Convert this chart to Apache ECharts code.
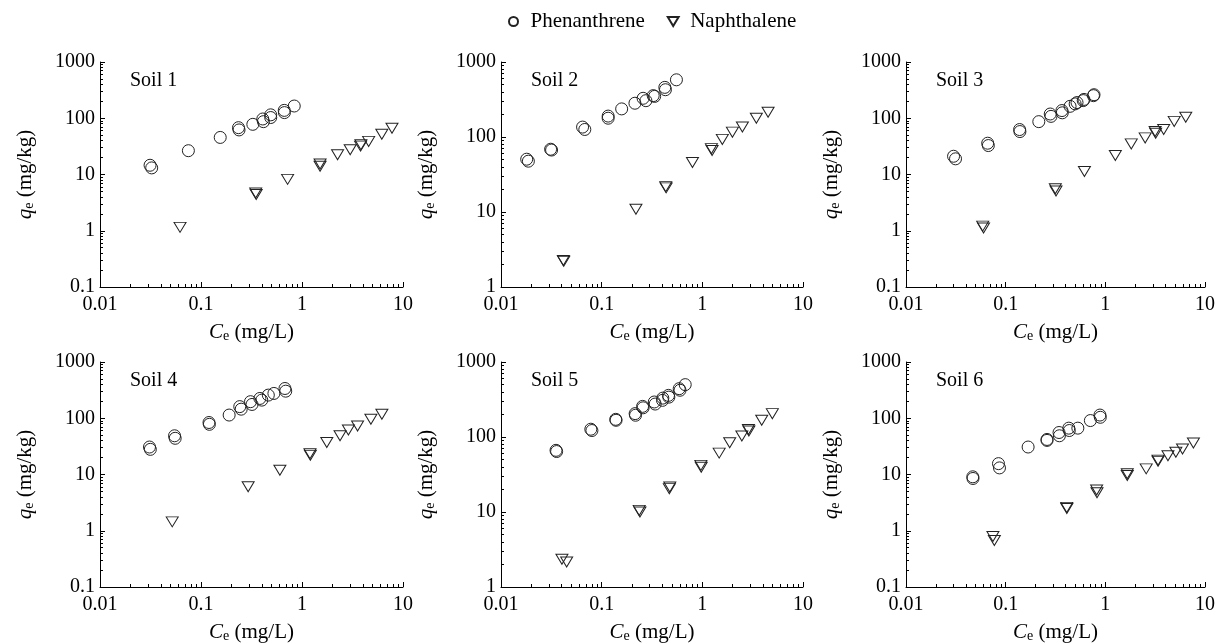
<!DOCTYPE html>
<html>
<head>
<meta charset="utf-8">
<script src="https://cdn.jsdelivr.net/npm/echarts@6/dist/echarts.min.js"></script>
<style>
html, body { margin: 0; padding: 0; background: #fff; }
#chart { width: 1218px; height: 644px; }
</style>
</head>
<body>
<div id="chart"></div>
<script>
// 名称
var soilNames = ['Soil 1', 'Soil 2', 'Soil 3', 'Soil 4', 'Soil 5', 'Soil 6'];
var seriesNames = ['Phenanthrene', 'Naphthalene'];

// 刻度
var xTicks = [0.01, 0.1, 1, 10];
var yTicksWide = [0.1, 1, 10, 100, 1000];
var yTicksNarrow = [1, 10, 100, 1000];

// Phenanthrene [Ce, qe]
var phen1 = [[0.0313, 14.6], [0.0325, 13.1], [0.075, 26.5], [0.155, 45.6], [0.235, 68], [0.238, 62], [0.326, 78], [0.409, 97], [0.415, 87], [0.49, 115], [0.49, 103], [0.667, 138], [0.67, 126], [0.838, 165]];
var phen2 = [[0.018, 50.6], [0.0187, 47.6], [0.0311, 68.7], [0.0318, 67], [0.0646, 135.6], [0.068, 126], [0.116, 190], [0.116, 178], [0.158, 237], [0.214, 282], [0.258, 328], [0.275, 305], [0.325, 356], [0.336, 348], [0.424, 459], [0.43, 427], [0.553, 579]];
var phen3 = [[0.030, 21.1], [0.0314, 19], [0.066, 36], [0.067, 32.7], [0.138, 63], [0.139, 58], [0.215, 87], [0.28, 119], [0.285, 108], [0.367, 137], [0.37, 125], [0.443, 163], [0.498, 180], [0.52, 190], [0.6, 206], [0.61, 216], [0.76, 252], [0.77, 262]];
var phen4 = [[0.0309, 30.8], [0.0315, 28], [0.0547, 48.8], [0.0555, 44], [0.12, 84], [0.121, 78], [0.19, 114], [0.242, 161], [0.25, 145], [0.309, 197], [0.32, 176], [0.383, 225], [0.4, 210], [0.464, 258], [0.527, 276], [0.678, 338], [0.69, 303]];
var phen5 = [[0.0352, 66.4], [0.0357, 64], [0.078, 127], [0.08, 122], [0.138, 172], [0.139, 167], [0.215, 205], [0.217, 195], [0.255, 256], [0.258, 245], [0.333, 293], [0.34, 275], [0.402, 308], [0.405, 330], [0.461, 359], [0.465, 340], [0.589, 441], [0.6, 420], [0.676, 499]];
var phen6 = [[0.0468, 9.1], [0.047, 8.5], [0.0847, 15.6], [0.0867, 13.1], [0.168, 30.8], [0.26, 40.4], [0.26, 42], [0.343, 55.8], [0.346, 48.8], [0.43, 66.7], [0.435, 60.5], [0.53, 66.7], [0.708, 91], [0.883, 114], [0.89, 104]];

// Naphthalene [Ce, qe]
var naph1 = [[0.062, 1.15], [0.352, 4.4], [0.348, 4.7], [0.72, 8.2], [1.51, 15.4], [1.51, 14], [2.25, 22.5], [3.0, 27.6], [3.83, 33.9], [3.8, 32], [4.57, 38.8], [6.17, 52], [7.78, 66.6]];
var naph2 = [[0.0416, 2.26], [0.042, 2.2], [0.219, 10.9], [0.433, 21.8], [0.437, 21], [0.798, 45.7], [1.23, 70], [1.25, 66], [1.58, 93], [1.99, 116], [2.5, 136], [3.44, 178], [4.5, 214]];
var naph3 = [[0.0588, 1.21], [0.06, 1.12], [0.315, 5.57], [0.32, 5.1], [0.617, 11.3], [1.26, 21.7], [1.82, 35], [2.51, 44.8], [3.16, 58], [3.2, 54], [3.85, 63], [4.91, 88], [6.41, 104]];
var naph4 = [[0.0519, 1.44], [0.293, 6.05], [0.604, 11.9], [1.2, 23.5], [1.21, 22], [1.76, 37], [2.38, 48.8], [2.88, 62], [3.55, 73], [4.81, 96], [6.18, 118]];
var naph5 = [[0.0403, 2.34], [0.0449, 2.15], [0.236, 10.5], [0.24, 10], [0.475, 21.5], [0.47, 20.5], [0.967, 41.9], [0.975, 39.5], [1.47, 61], [1.87, 84], [2.47, 103], [2.87, 126], [2.9, 120], [3.89, 167], [4.96, 205]];
var naph6 = [[0.0745, 0.79], [0.077, 0.67], [0.411, 2.48], [0.41, 2.6], [0.818, 5.3], [0.825, 4.75], [1.66, 9.6], [1.66, 10.3], [2.57, 12.6], [3.38, 17.2], [3.38, 18], [4.25, 21.6], [5.1, 24.8], [5.95, 28.4], [7.65, 36.2]];

var phenData = [phen1, phen2, phen3, phen4, phen5, phen6];
var naphData = [naph1, naph2, naph3, naph4, naph5, naph6];
var yMins = [0.1, 1, 0.1, 0.1, 1, 0.1];

var FONT = 'Liberation Serif';
var triPath = 'path://M0,0L12,0L6,10Z';

// 小刻度 2..9 × 每个数量级
function minorTicks(min, max) {
    var arr = [];
    for (var d = min; d < max * 0.999; d *= 10) {
        for (var k = 2; k <= 9; k++) arr.push(+(k * d).toPrecision(3));
    }
    return arr;
}

var lefts = [100, 501, 906];
var widths = [303, 302, 302];
var tops = [62, 362];
var heights = [225, 226];

var chart = echarts.init(document.getElementById('chart'), null, { renderer: 'canvas' });

var grids = [], xAxes = [], yAxes = [], series = [], titles = [];

function fmt(v) {
    return String(+v.toPrecision(3));
}

var nameRich = {
    i: { fontFamily: FONT, fontSize: 21, fontStyle: 'italic', color: '#000' },
    t: { fontFamily: FONT, fontSize: 21, color: '#000' },
    s: { fontFamily: FONT, fontSize: 14, color: '#000', padding: [8, 0, 0, 0] }
};

for (var i = 0; i < 6; i++) {
    var col = i % 3, row = Math.floor(i / 3);
    grids.push({ left: lefts[col], top: tops[row], width: widths[col], height: heights[row], containLabel: false });
    var yTicks = yMins[i] === 1 ? yTicksNarrow : yTicksWide;

    // 主刻度轴
    xAxes.push({
        type: 'log', logBase: 10, gridIndex: i, min: 0.01, max: 10, position: 'bottom',
        name: '{i|C}{s|e}{t| (mg/L)}', nameLocation: 'middle', nameGap: 34,
        nameTextStyle: { fontFamily: FONT, fontSize: 21, color: '#000', rich: nameRich },
        axisLine: { show: true, lineStyle: { color: '#000', width: 1 } },
        axisTick: { show: true, inside: true, length: 5, customValues: xTicks, lineStyle: { color: '#000' } },
        axisLabel: { show: true, customValues: xTicks, margin: 8, fontFamily: FONT, fontSize: 20, color: '#000', formatter: fmt },
        splitLine: { show: false }
    });
    // 小刻度轴
    xAxes.push({
        type: 'log', logBase: 10, gridIndex: i, min: 0.01, max: 10, position: 'bottom',
        axisLine: { show: false },
        axisTick: { show: true, inside: true, length: 3, customValues: minorTicks(0.01, 10), lineStyle: { color: '#000' } },
        axisLabel: { show: false },
        splitLine: { show: false }
    });
    yAxes.push({
        type: 'log', logBase: 10, gridIndex: i, min: yMins[i], max: 1000, position: 'left',
        name: '{i|q}{s|e}{t| (mg/kg)}', nameLocation: 'middle', nameGap: 64, nameRotate: 90,
        nameTextStyle: { fontFamily: FONT, fontSize: 21, color: '#000', rich: nameRich },
        axisLine: { show: true, lineStyle: { color: '#000', width: 1 } },
        axisTick: { show: true, inside: true, length: 5, customValues: yTicks, lineStyle: { color: '#000' } },
        axisLabel: { show: true, customValues: yTicks, margin: 5, fontFamily: FONT, fontSize: 20, color: '#000', formatter: fmt },
        splitLine: { show: false }
    });
    yAxes.push({
        type: 'log', logBase: 10, gridIndex: i, min: yMins[i], max: 1000, position: 'left',
        axisLine: { show: false },
        axisTick: { show: true, inside: true, length: 3, customValues: minorTicks(yMins[i], 1000), lineStyle: { color: '#000' } },
        axisLabel: { show: false },
        splitLine: { show: false }
    });

    titles.push({
        text: soilNames[i], left: lefts[col] + 25, top: tops[row] + 4,
        textStyle: { fontFamily: FONT, fontSize: 20, fontWeight: 'normal', color: '#000' }
    });

    series.push({
        name: seriesNames[0], type: 'scatter', xAxisIndex: 2 * i, yAxisIndex: 2 * i,
        data: phenData[i], symbol: 'circle', symbolSize: 12,
        itemStyle: { color: 'rgba(255,255,255,0)', borderColor: '#222', borderWidth: 1, opacity: 1 },
        emphasis: { disabled: true }
    });
    series.push({
        name: seriesNames[1], type: 'scatter', xAxisIndex: 2 * i, yAxisIndex: 2 * i,
        data: naphData[i], symbol: triPath, symbolSize: [12, 10],
        itemStyle: { color: 'rgba(255,255,255,0)', borderColor: '#222', borderWidth: 1, opacity: 1 },
        emphasis: { disabled: true }
    });
}

var option = {
    backgroundColor: '#fff',
    animation: false,
    title: titles,
    legend: {
        data: seriesNames, left: 503, top: 6, itemWidth: 24, itemHeight: 9, itemGap: 22,
        textStyle: { fontFamily: FONT, fontSize: 21, color: '#000' }
    },
    grid: grids,
    xAxis: xAxes,
    yAxis: yAxes,
    series: series
};
chart.setOption(option);
</script>
</body>
</html>
